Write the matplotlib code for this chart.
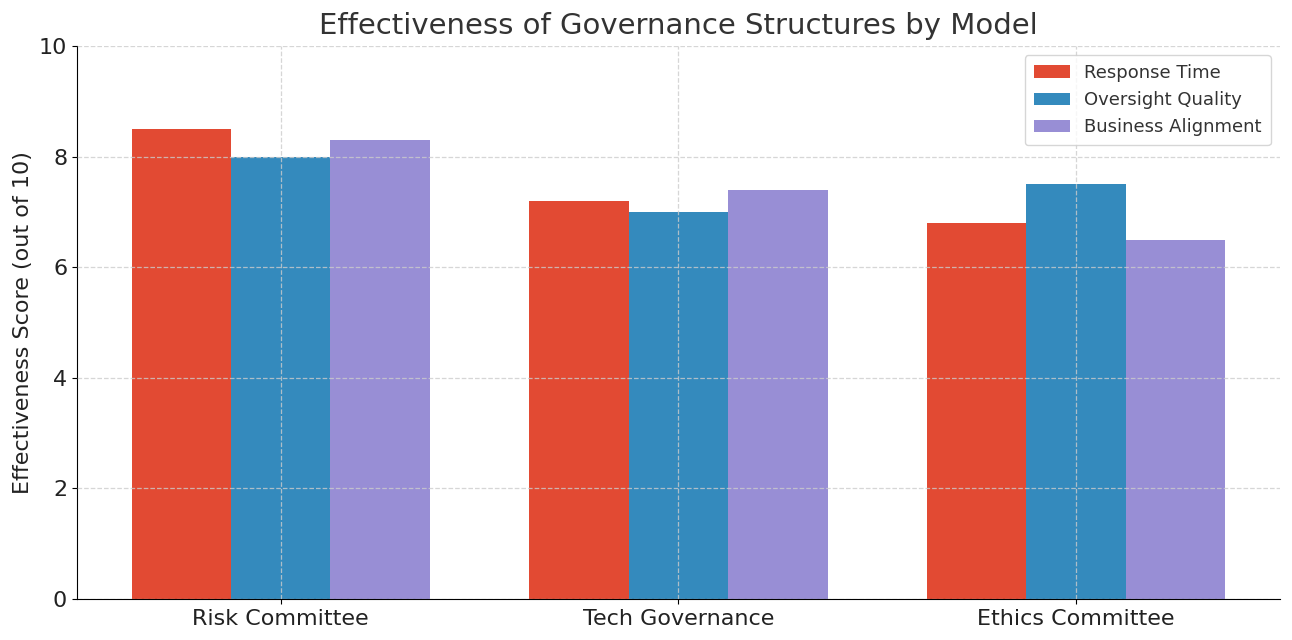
import numpy as np
import matplotlib.pyplot as plt

models = ['Risk Committee', 'Tech Governance', 'Ethics Committee']
response_time = [8.5, 7.2, 6.8]
oversight_quality = [8.0, 7.0, 7.5]
business_alignment = [8.3, 7.4, 6.5]

fig, ax = plt.subplots(figsize=(12.92, 6.4), dpi=100)
fig.subplots_adjust(left=0.0595, right=0.9907, bottom=0.064, top=0.928)

x = np.arange(len(models))
w = 0.25
ax.bar(x - w, response_time, w, color='#E24A33', label='Response Time')
ax.bar(x, oversight_quality, w, color='#348ABD', label='Oversight Quality')
ax.bar(x + w, business_alignment, w, color='#988ED5', label='Business Alignment')

ax.set_xticks(x)
ax.set_xticklabels(models, fontsize=16, color='#222222')
ax.set_ylim(0, 10)
ax.set_yticks([0, 2, 4, 6, 8, 10])
ax.tick_params(axis='y', labelsize=16, labelcolor='#222222')
ax.set_ylabel('Effectiveness Score (out of 10)', fontsize=16, color='#222222')
ax.set_title('Effectiveness of Governance Structures by Model', fontsize=21,
             color='#333333', pad=9)

ax.set_axisbelow(False)
ax.grid(True, linestyle='--', color='#cccccc', alpha=0.8, linewidth=0.9)
ax.spines['top'].set_visible(False)
ax.spines['right'].set_visible(False)

leg = ax.legend(loc='upper right', fontsize=13, handlelength=2.0, borderpad=0.5)
for t in leg.get_texts():
    t.set_color('#333333')

plt.savefig('out.png')
